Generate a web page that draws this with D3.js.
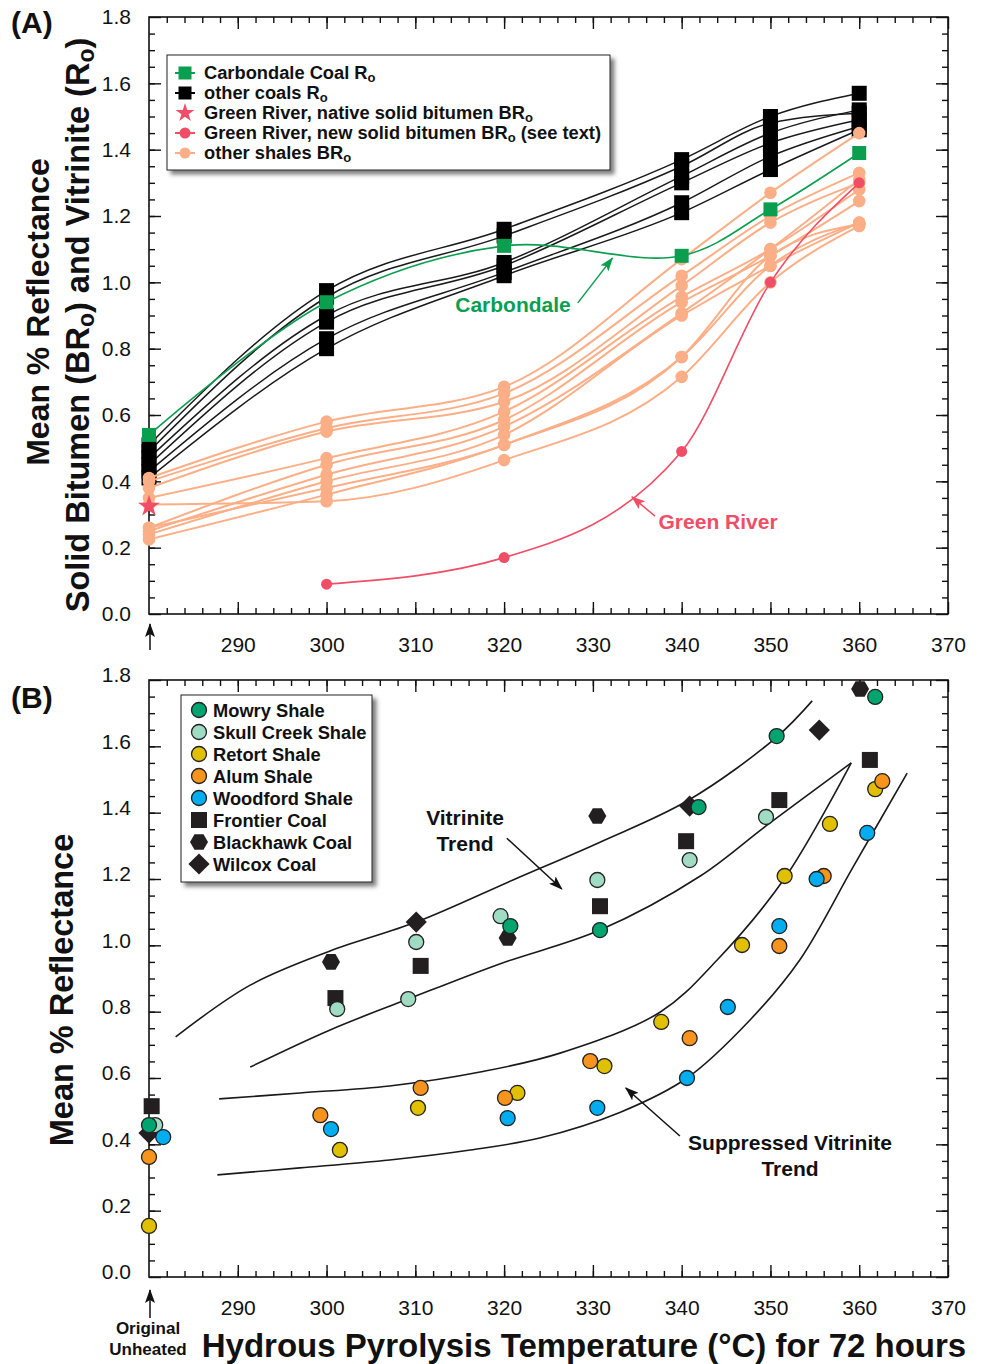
<!DOCTYPE html>
<html><head><meta charset="utf-8">
<script src="https://cdn.jsdelivr.net/npm/d3@7"></script>
<style>
body{margin:0;background:#fff;}
svg{display:block;}
</style></head><body>
<svg id="chart" width="982" height="1364"></svg>
<script>
// ---------------- DATA ----------------
// Panel A : temperatures (280 = original unheated)
const tempsA = [280, 300, 320, 340, 350, 360];
const carbondale = [0.54, 0.94, 1.11, 1.08, 1.22, 1.39];
const coal1 = [0.51, 0.975, 1.16, 1.37, 1.50, 1.57];
const coal2 = [0.49, 0.955, 1.14, 1.35, 1.48, 1.51];
const coal3 = [0.47, 0.90, 1.06, 1.32, 1.45, 1.52];
const coal4 = [0.45, 0.88, 1.05, 1.30, 1.42, 1.49];
const coal5 = [0.43, 0.83, 1.03, 1.24, 1.38, 1.47];
const coal6 = [0.41, 0.80, 1.02, 1.21, 1.34, 1.46];
const shale1 = [0.41, 0.58, 0.685, 1.07, 1.27, 1.45];
const shale2 = [0.40, 0.56, 0.665, 1.02, 1.20, 1.33];
const shale3 = [0.38, 0.55, 0.64, 0.99, 1.18, 1.30];
const shale4 = [0.35, 0.47, 0.61, 0.956, 1.10, 1.28];
const shale5 = [0.26, 0.45, 0.585, 0.94, 1.08, 1.245];
const shale6 = [0.25, 0.42, 0.565, 0.907, 1.10, 1.31];
const shale7 = [0.24, 0.40, 0.54, 0.90, 1.05, 1.18];
const shale8 = [0.26, 0.38, 0.51, 0.775, 1.08, 1.175];
const shale9 = [0.225, 0.36, 0.51, 0.775, 1.05, 1.18];
const shale10 = [0.33, 0.34, 0.464, 0.715, 1.00, 1.17];
const greenRiverNativeT = [280];
const greenRiverNative = [0.325];
const greenRiverNewT = [300, 320, 340, 350, 360];
const greenRiverNew = [0.09, 0.17, 0.49, 1.00, 1.30];

// Panel B : [temperature, reflectance]
const mowry = [[280, 0.458], [320.7, 1.058], [330.8, 1.046], [341.9, 1.417], [350.7, 1.631], [361.8, 1.749]];
const skullCreek = [[280.7, 0.458], [301.2, 0.808], [309.2, 0.838], [310.1, 1.01], [319.6, 1.088], [330.5, 1.197], [340.9, 1.257], [349.5, 1.387]];
const retort = [[280, 0.154], [301.5, 0.383], [310.3, 0.51], [321.5, 0.555], [331.3, 0.636], [337.7, 0.769], [346.8, 1.001], [351.6, 1.209], [356.7, 1.366], [361.8, 1.471]];
const alum = [[280, 0.362], [299.3, 0.488], [310.6, 0.57], [320.1, 0.54], [329.7, 0.651], [340.9, 0.72], [351.0, 0.998], [356.0, 1.209], [362.6, 1.495]];
const woodford = [[281.6, 0.422], [300.5, 0.446], [320.4, 0.479], [330.5, 0.51], [340.6, 0.60], [345.2, 0.814], [351.0, 1.058], [355.2, 1.20], [360.9, 1.339]];
const frontier = [[280.3, 0.515], [301, 0.841], [310.6, 0.938], [330.8, 1.118], [340.5, 1.314], [351, 1.438], [361.2, 1.559]];
const blackhawk = [[300.5, 0.95], [320.4, 1.022], [330.5, 1.39], [360.1, 1.773]];
const wilcox = [[280, 0.434], [310.1, 1.07], [340.9, 1.42], [355.5, 1.649]];

// trend curves (panel B)
const vitUpper = [[283.0, 0.724], [291.4, 0.880], [300.4, 0.983], [310.1, 1.070], [321.0, 1.197], [330.8, 1.311], [340.8, 1.438], [350.7, 1.628], [354.7, 1.737]];
const vitLower = [[291.4, 0.633], [300.4, 0.745], [309.2, 0.838], [319.5, 0.944], [330.8, 1.046], [342.1, 1.209], [349.5, 1.360], [359.1, 1.550]];
const supUpper = [[287.9, 0.537], [297.0, 0.555], [307.1, 0.576], [317.3, 0.618], [326.3, 0.675], [337.6, 0.799], [344.0, 0.956], [351.7, 1.206], [359.1, 1.550]];
const supLower = [[287.7, 0.308], [297.0, 0.329], [307.1, 0.353], [316.2, 0.383], [324.0, 0.419], [333.1, 0.497], [340.6, 0.600], [347.7, 0.775], [353.3, 0.956], [359.3, 1.236], [365.4, 1.519]];

// ticks
const xMajorTicks = [290, 300, 310, 320, 330, 340, 350, 360, 370];
const xMinorTicks = d3.range(282, 370, 2);
const yMajorTicks = [0, 0.2, 0.4, 0.6, 0.8, 1.0, 1.2, 1.4, 1.6, 1.8];
const yMinorTicks = d3.range(0.05, 1.8, 0.05);

// ---------------- SETUP ----------------
const FONT = '"Liberation Sans", Arial, Helvetica, sans-serif';
const C_GREEN = '#0b9e4f', C_SHALE = '#fcae86', C_RED = '#f04d66', C_BLACK = '#111';
const svg = d3.select('#chart').attr('font-family', FONT);
const x = d3.scaleLinear().domain([280, 370]).range([149, 948]);
const yA = d3.scaleLinear().domain([0, 1.8]).range([614, 17]);
const yB = d3.scaleLinear().domain([0, 1.8]).range([1277, 680]);

const defs = svg.append('defs');
const f = defs.append('filter').attr('id', 'shadow').attr('x', '-5%').attr('y', '-5%').attr('width', '115%').attr('height', '125%');
f.append('feDropShadow').attr('dx', 4).attr('dy', 4).attr('stdDeviation', 2.2).attr('flood-color', '#444').attr('flood-opacity', 0.7);
function marker(id, color) {
  defs.append('marker').attr('id', id).attr('viewBox', '0 0 14 10').attr('refX', 13).attr('refY', 5)
    .attr('markerWidth', 14).attr('markerHeight', 10).attr('markerUnits', 'userSpaceOnUse').attr('orient', 'auto')
    .append('path').attr('d', 'M0,0 L14,5 L0,10 L3,5 Z').attr('fill', color);
}
marker('arB', C_BLACK); marker('arG', C_GREEN); marker('arR', C_RED);

function drawAxes(y, labelShift) {
  const g = svg.append('g').attr('stroke-width', 1.4);
  const bottom = y.range()[0], top = y.range()[1];
  const clean = s => s.select('.domain').remove();
  g.append('g').attr('transform', `translate(0,${bottom})`).call(d3.axisBottom(x).tickValues(xMinorTicks).tickSize(-6).tickFormat('')).call(clean);
  g.append('g').attr('transform', `translate(0,${top})`).call(d3.axisTop(x).tickValues(xMinorTicks).tickSize(-6).tickFormat('')).call(clean);
  g.append('g').attr('transform', `translate(149,0)`).call(d3.axisLeft(y).tickValues(yMinorTicks).tickSize(-6).tickFormat('')).call(clean);
  g.append('g').attr('transform', `translate(948,0)`).call(d3.axisRight(y).tickValues(yMinorTicks).tickSize(-6).tickFormat('')).call(clean);
  const xb = g.append('g').attr('transform', `translate(0,${bottom})`).call(d3.axisBottom(x).tickValues(xMajorTicks).tickSize(-12).tickPadding(23)).call(clean);
  g.append('g').attr('transform', `translate(0,${top})`).call(d3.axisTop(x).tickValues(xMajorTicks).tickSize(-12).tickFormat('')).call(clean);
  const yl = g.append('g').attr('transform', `translate(149,0)`).call(d3.axisLeft(y).tickValues(yMajorTicks).tickSize(-12).tickPadding(18).tickFormat(d3.format('.1f'))).call(clean);
  g.append('g').attr('transform', `translate(948,0)`).call(d3.axisRight(y).tickValues(yMajorTicks).tickSize(-12).tickFormat('')).call(clean);
  // remove empty label texts from unlabeled axes
  g.selectAll('text').filter(function () { return !this.textContent; }).remove();
  [xb, yl].forEach(a => a.selectAll('text').attr('font-size', 21).attr('font-family', FONT).attr('fill', '#111'));
  yl.selectAll('text').attr('y', labelShift);
  g.selectAll('line').attr('stroke', C_BLACK);
  g.append('rect').attr('x', 149).attr('y', top).attr('width', 948 - 149).attr('height', bottom - top)
    .attr('fill', 'none').attr('stroke', C_BLACK).attr('stroke-width', 1.6);
}

// text with subscripts: shift is applied to the sub tspan and undone on the next tspan
function rich(sel, parts, subSize, shift) {
  let pending = 0;
  parts.forEach(p => {
    const t = sel.append('tspan').text(p.t);
    if (p.sub) { t.attr('dy', shift).attr('font-size', subSize); pending = -shift; }
    else if (pending) { t.attr('dy', pending); pending = 0; }
  });
  return sel;
}

// ---------------- PANEL A ----------------
drawAxes(yA, 0);
const gA = svg.append('g');
const lineA = (curve) => d3.line().x(d => x(d[0])).y(d => yA(d[1])).curve(curve);
const zipA = (t, v) => t.map((tt, i) => [tt, v[i]]);
const coals = [coal1, coal2, coal3, coal4, coal5, coal6];
const shales = [shale1, shale2, shale3, shale4, shale5, shale6, shale7, shale8, shale9, shale10];

coals.forEach(c => gA.append('path').attr('d', lineA(d3.curveMonotoneX)(zipA(tempsA, c)))
  .attr('fill', 'none').attr('stroke', '#1a1a1a').attr('stroke-width', 1.5));
coals.forEach(c => gA.selectAll(null).data(zipA(tempsA, c)).enter().append('rect')
  .attr('x', d => x(d[0]) - 7.5).attr('y', d => yA(d[1]) - 7.5).attr('width', 15).attr('height', 15).attr('fill', '#000'));
shales.forEach(s => gA.append('path').attr('d', lineA(d3.curveMonotoneX)(zipA(tempsA, s)))
  .attr('fill', 'none').attr('stroke', C_SHALE).attr('stroke-width', 2));
shales.forEach(s => gA.selectAll(null).data(zipA(tempsA, s)).enter().append('circle')
  .attr('cx', d => x(d[0])).attr('cy', d => yA(d[1])).attr('r', 6.3).attr('fill', C_SHALE));
gA.append('path').attr('d', lineA(d3.curveCatmullRom.alpha(0.5))(zipA(tempsA, carbondale)))
  .attr('fill', 'none').attr('stroke', C_GREEN).attr('stroke-width', 1.6);
gA.selectAll(null).data(zipA(tempsA, carbondale)).enter().append('rect')
  .attr('x', d => x(d[0]) - 7).attr('y', d => yA(d[1]) - 7).attr('width', 14).attr('height', 14).attr('fill', C_GREEN);
gA.append('path').attr('d', lineA(d3.curveMonotoneX)(zipA(greenRiverNewT, greenRiverNew)))
  .attr('fill', 'none').attr('stroke', C_RED).attr('stroke-width', 1.6);
gA.selectAll(null).data(zipA(greenRiverNewT, greenRiverNew)).enter().append('circle')
  .attr('cx', d => x(d[0])).attr('cy', d => yA(d[1])).attr('r', 5.5).attr('fill', C_RED);
gA.selectAll(null).data(zipA(greenRiverNativeT, greenRiverNative)).enter().append('path')
  .attr('transform', d => `translate(${x(d[0])},${yA(d[1])})`).attr('d', d3.symbol(d3.symbolStar, 150)()).attr('fill', C_RED);

// annotations A
svg.append('text').attr('x', x(321.0)).attr('y', yA(0.935) + 8).attr('text-anchor', 'middle')
  .attr('font-size', 21).attr('font-weight', 'bold').attr('fill', C_GREEN).text('Carbondale');
svg.append('line').attr('x1', x(328.3)).attr('y1', yA(0.938)).attr('x2', x(332.2)).attr('y2', yA(1.073))
  .attr('stroke', C_GREEN).attr('stroke-width', 1.5).attr('marker-end', 'url(#arG)');
svg.append('text').attr('x', x(344.1)).attr('y', yA(0.280) + 8).attr('text-anchor', 'middle')
  .attr('font-size', 21).attr('font-weight', 'bold').attr('fill', C_RED).text('Green River');
svg.append('line').attr('x1', x(337.0)).attr('y1', yA(0.295)).attr('x2', x(334.4)).attr('y2', yA(0.353))
  .attr('stroke', C_RED).attr('stroke-width', 1.5).attr('marker-end', 'url(#arR)');

// legend A
const legA = svg.append('g');
legA.append('rect').attr('x', 167).attr('y', 55).attr('width', 443).attr('height', 115)
  .attr('fill', '#fff').attr('stroke', '#222').attr('stroke-width', 1).attr('filter', 'url(#shadow)');
const legAItems = [
  {type: 'square', color: C_GREEN, parts: [{t: 'Carbondale Coal R'}, {t: 'o', sub: true}]},
  {type: 'square', color: '#000', parts: [{t: 'other coals R'}, {t: 'o', sub: true}]},
  {type: 'star', color: C_RED, parts: [{t: 'Green River, native solid bitumen BR'}, {t: 'o', sub: true}]},
  {type: 'circle', color: C_RED, parts: [{t: 'Green River, new solid bitumen BR'}, {t: 'o', sub: true}, {t: ' (see text)'}]},
  {type: 'circle', color: C_SHALE, parts: [{t: 'other shales BR'}, {t: 'o', sub: true}]}
];
legAItems.forEach((it, i) => {
  const cy = 73 + i * 20, cx = 185;
  const g = legA.append('g');
  if (it.type !== 'star') g.append('line').attr('x1', cx - 10).attr('x2', cx + 10).attr('y1', cy).attr('y2', cy).attr('stroke', it.color).attr('stroke-width', 2);
  if (it.type === 'square') g.append('rect').attr('x', cx - 6.5).attr('y', cy - 6.5).attr('width', 13).attr('height', 13).attr('fill', it.color);
  if (it.type === 'circle') g.append('circle').attr('cx', cx).attr('cy', cy).attr('r', 5.5).attr('fill', it.color);
  if (it.type === 'star') g.append('path').attr('transform', `translate(${cx},${cy})`).attr('d', d3.symbol(d3.symbolStar, 110)()).attr('fill', it.color);
  rich(g.append('text').attr('x', 204).attr('y', cy + 6).attr('font-size', 18.3).attr('font-weight', 'bold').attr('fill', '#111'), it.parts, 13, 3);
});

// ---------------- PANEL B ----------------
drawAxes(yB, -5);
const gB = svg.append('g');
const lineB = d3.line().x(d => x(d[0])).y(d => yB(d[1])).curve(d3.curveCatmullRom.alpha(0.5));
[vitUpper, vitLower, supUpper, supLower].forEach(c => gB.append('path').attr('d', lineB(c))
  .attr('fill', 'none').attr('stroke', '#1a1a1a').attr('stroke-width', 1.6));

const C_MOWRY = '#00a46e', C_SKULL = '#a0dcc3', C_RETORT = '#e0c000', C_ALUM = '#f7941d', C_WOOD = '#00aeef', C_COAL = '#231f20';
const hexPath = r => d3.line()(d3.range(6).map(k => [r * Math.cos(k * Math.PI / 3), r * Math.sin(k * Math.PI / 3)])) + 'Z';
function drawMarker(g, type, color, cx, cy) {
  if (type === 'circle') return g.append('circle').attr('cx', cx).attr('cy', cy).attr('r', 7.5).attr('fill', color).attr('stroke', '#222').attr('stroke-width', 1.3);
  if (type === 'square') return g.append('rect').attr('x', cx - 8).attr('y', cy - 8).attr('width', 16).attr('height', 16).attr('fill', color);
  if (type === 'hex') return g.append('path').attr('transform', `translate(${cx},${cy})`).attr('d', hexPath(9)).attr('fill', color);
  if (type === 'diamond') return g.append('path').attr('transform', `translate(${cx},${cy}) rotate(45)`).attr('d', 'M-7.5,-7.5H7.5V7.5H-7.5Z').attr('fill', color);
}
const seriesB = [
  {name: 'Wilcox Coal', data: wilcox, type: 'diamond', color: C_COAL},
  {name: 'Frontier Coal', data: frontier, type: 'square', color: C_COAL},
  {name: 'Blackhawk Coal', data: blackhawk, type: 'hex', color: C_COAL},
  {name: 'Skull Creek Shale', data: skullCreek, type: 'circle', color: C_SKULL},
  {name: 'Mowry Shale', data: mowry, type: 'circle', color: C_MOWRY},
  {name: 'Retort Shale', data: retort, type: 'circle', color: C_RETORT},
  {name: 'Alum Shale', data: alum, type: 'circle', color: C_ALUM},
  {name: 'Woodford Shale', data: woodford, type: 'circle', color: C_WOOD}
];
seriesB.forEach(s => s.data.forEach(d => drawMarker(gB, s.type, s.color, x(d[0]), yB(d[1]))));

// annotations B
const annB = svg.append('g').attr('font-size', 21).attr('font-weight', 'bold').attr('fill', '#111').attr('text-anchor', 'middle');
annB.append('text').attr('x', x(315.6)).attr('y', yB(1.387) + 8).text('Vitrinite');
annB.append('text').attr('x', x(315.6)).attr('y', yB(1.308) + 8).text('Trend');
annB.append('text').attr('x', x(352.2)).attr('y', yB(0.407) + 8).text('Suppressed Vitrinite');
annB.append('text').attr('x', x(352.2)).attr('y', yB(0.329) + 8).text('Trend');
svg.append('line').attr('x1', x(320.3)).attr('y1', yB(1.323)).attr('x2', x(326.5)).attr('y2', yB(1.170))
  .attr('stroke', C_BLACK).attr('stroke-width', 1.5).attr('marker-end', 'url(#arB)');
svg.append('line').attr('x1', x(339.8)).attr('y1', yB(0.425)).attr('x2', x(333.7)).attr('y2', yB(0.570))
  .attr('stroke', C_BLACK).attr('stroke-width', 1.5).attr('marker-end', 'url(#arB)');

// legend B
const legB = svg.append('g');
legB.append('rect').attr('x', 181).attr('y', 695).attr('width', 191).attr('height', 187)
  .attr('fill', '#fff').attr('stroke', '#222').attr('stroke-width', 1).attr('filter', 'url(#shadow)');
const legBOrder = ['Mowry Shale', 'Skull Creek Shale', 'Retort Shale', 'Alum Shale', 'Woodford Shale', 'Frontier Coal', 'Blackhawk Coal', 'Wilcox Coal'];
legBOrder.forEach((n, i) => {
  const s = seriesB.find(q => q.name === n);
  const cy = 710 + i * 22;
  drawMarker(legB, s.type, s.color, 199, cy);
  legB.append('text').attr('x', 213).attr('y', cy + 6.5).attr('font-size', 18.3).attr('font-weight', 'bold').attr('fill', '#111').text(n);
});

// ---------------- TITLES & LABELS ----------------
const bold = (t, xx, yy, size, anchor) => svg.append('text').attr('x', xx).attr('y', yy).attr('font-size', size)
  .attr('font-weight', 'bold').attr('fill', '#111').attr('text-anchor', anchor || 'start').text(t);
bold('(A)', 11, 33, 30);
bold('(B)', 11, 708, 30);
svg.append('text').attr('transform', 'translate(49,312) rotate(-90)').attr('text-anchor', 'middle')
  .attr('font-size', 32).attr('font-weight', 'bold').attr('fill', '#111').text('Mean % Reflectance');
rich(svg.append('text').attr('transform', 'translate(89,325) rotate(-90)').attr('text-anchor', 'middle')
  .attr('font-size', 32.5).attr('font-weight', 'bold').attr('fill', '#111'),
  [{t: 'Solid Bitumen (BR'}, {t: 'o', sub: true}, {t: ') and Vitrinite (R'}, {t: 'o', sub: true}, {t: ')'}], 23, 5);
svg.append('text').attr('transform', 'translate(73,990) rotate(-90)').attr('text-anchor', 'middle')
  .attr('font-size', 32.5).attr('font-weight', 'bold').attr('fill', '#111').text('Mean % Reflectance');
bold('Hydrous Pyrolysis Temperature (°C) for 72 hours', 584, 1357, 33, 'middle');
bold('Original', 148, 1334, 17, 'middle');
bold('Unheated', 148, 1355, 17, 'middle');
[[650, 624], [1318, 1290]].forEach(([y1, y2]) => svg.append('line').attr('x1', 150).attr('x2', 150).attr('y1', y1).attr('y2', y2)
  .attr('stroke', C_BLACK).attr('stroke-width', 1.5).attr('marker-end', 'url(#arB)'));
</script>
</body></html>
